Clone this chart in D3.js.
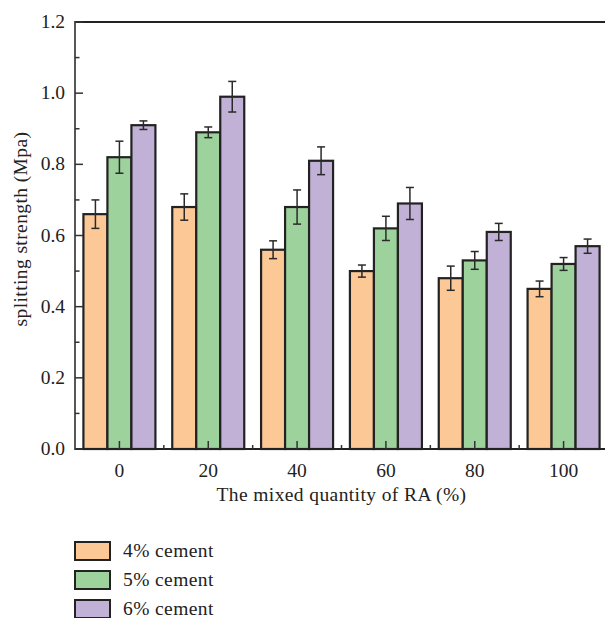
<!DOCTYPE html>
<html>
<head>
<meta charset="utf-8">
<script src="https://cdn.jsdelivr.net/npm/d3@7"></script>
<style>
    body { margin: 0; background: #fff; }
    text { font-family: 'Liberation Serif', 'DejaVu Serif', serif; fill: #222; }
</style>
</head>
<body>
<svg id="chart" width="605" height="618"></svg>
<script>
    // values
    const categories = ["0", "20", "40", "60", "80", "100"];
    const series = ["4% cement", "5% cement", "6% cement"];
    const cement4 = [0.66, 0.68, 0.56, 0.50, 0.48, 0.45];
    const cement5 = [0.82, 0.89, 0.68, 0.62, 0.53, 0.52];
    const cement6 = [0.91, 0.99, 0.81, 0.69, 0.61, 0.57];
    const err4 = [0.040, 0.037, 0.025, 0.017, 0.034, 0.022];
    const err5 = [0.045, 0.015, 0.048, 0.034, 0.025, 0.018];
    const err6 = [0.012, 0.043, 0.039, 0.045, 0.024, 0.020];
    const yTicks = [0, 0.2, 0.4, 0.6, 0.8, 1.0, 1.2];
    const yMinorTicks = [0.1, 0.3, 0.5, 0.7, 0.9, 1.1];
    const colors = ["#fcc896", "#9ed29c", "#c1b1d7"];

    const values = [cement4, cement5, cement6];
    const errors = [err4, err5, err6];

    const margin = { left: 75, right: 608, top: 22, bottom: 449 };
    const svg = d3.select("#chart");

    const x = d3.scaleBand().domain(categories).range([margin.left, margin.right]).padding(0);
    const xInner = d3.scaleBand().domain(series).range([-36, 36]).padding(0);
    const y = d3.scaleLinear().domain([0, 1.2]).range([margin.bottom, margin.top]);

    // bars
    const rows = [];
    series.forEach((s, si) => {
        categories.forEach((c, ci) => {
            rows.push({ cat: c, s: s, si: si, v: values[si][ci], e: errors[si][ci] });
        });
    });

    svg.append("g").selectAll("rect")
        .data(rows)
        .enter().append("rect")
        .attr("x", d => x(d.cat) + x.bandwidth() / 2 + xInner(d.s))
        .attr("y", d => y(d.v))
        .attr("width", xInner.bandwidth())
        .attr("height", d => y(0) - y(d.v))
        .style("fill", d => colors[d.si])
        .style("stroke", "#222")
        .style("stroke-width", "2.2px");

    // error bars
    const eg = svg.append("g").style("stroke", "#2a2a2a").style("stroke-width", "1.5px");
    rows.forEach(d => {
        const cx = x(d.cat) + x.bandwidth() / 2 + xInner(d.s) + xInner.bandwidth() / 2;
        eg.append("line").attr("x1", cx).attr("x2", cx).attr("y1", y(d.v + d.e)).attr("y2", y(d.v - d.e));
        eg.append("line").attr("x1", cx - 4).attr("x2", cx + 4).attr("y1", y(d.v + d.e)).attr("y2", y(d.v + d.e));
        eg.append("line").attr("x1", cx - 4).attr("x2", cx + 4).attr("y1", y(d.v - d.e)).attr("y2", y(d.v - d.e));
    });

    // frame
    svg.append("line").attr("x1", margin.left).attr("x2", margin.right)
        .attr("y1", margin.top).attr("y2", margin.top)
        .style("stroke", "#222").style("stroke-width", "2px");
    svg.append("line").attr("x1", margin.left).attr("x2", margin.right)
        .attr("y1", margin.bottom).attr("y2", margin.bottom)
        .style("stroke", "#222").style("stroke-width", "2px");
    svg.append("line").attr("x1", margin.left).attr("x2", margin.left)
        .attr("y1", margin.top - 1).attr("y2", margin.bottom + 1)
        .style("stroke", "#444").style("stroke-width", "1.8px");

    // y axis ticks and labels
    const yg = svg.append("g").style("stroke", "#333").style("stroke-width", "1.5px");
    yTicks.forEach(t => {
        yg.append("line").attr("x1", margin.left).attr("x2", margin.left + 8).attr("y1", y(t)).attr("y2", y(t));
    });
    yMinorTicks.forEach(t => {
        yg.append("line").attr("x1", margin.left).attr("x2", margin.left + 4.5).attr("y1", y(t)).attr("y2", y(t));
    });
    svg.append("g").selectAll("text")
        .data(yTicks)
        .enter().append("text")
        .attr("x", margin.left - 10)
        .attr("y", d => y(d) + 6)
        .attr("text-anchor", "end")
        .style("font-size", "19.5px")
        .text(d => d.toFixed(1));

    // x axis ticks and labels
    const xg = svg.append("g").style("stroke", "#333").style("stroke-width", "1.5px");
    categories.forEach((c, i) => {
        const cx = x(c) + x.bandwidth() / 2;
        xg.append("line").attr("x1", cx).attr("x2", cx).attr("y1", margin.bottom).attr("y2", margin.bottom - 8);
        if (i > 0) {
            xg.append("line").attr("x1", x(c)).attr("x2", x(c)).attr("y1", margin.bottom).attr("y2", margin.bottom - 4);
        }
    });
    svg.append("g").selectAll("text")
        .data(categories)
        .enter().append("text")
        .attr("x", d => x(d) + x.bandwidth() / 2)
        .attr("y", 477)
        .attr("text-anchor", "middle")
        .style("font-size", "19.5px")
        .text(d => d);

    // axis titles
    svg.append("text")
        .attr("x", (margin.left + margin.right) / 2)
        .attr("y", 501)
        .attr("text-anchor", "middle")
        .style("font-size", "19.5px")
        .style("letter-spacing", "0.4px")
        .text("The mixed quantity of RA (%)");
    svg.append("text")
        .attr("transform", "translate(27, 229) rotate(-90)")
        .attr("text-anchor", "middle")
        .style("font-size", "19.5px")
        .style("letter-spacing", "0.4px")
        .text("splitting strength (Mpa)");

    // legend
    const legend = svg.append("g").selectAll("g")
        .data(series)
        .enter().append("g")
        .attr("transform", (d, i) => `translate(75, ${542 + i * 29})`);
    legend.append("rect")
        .attr("width", 35).attr("height", 18)
        .style("fill", (d, i) => colors[i])
        .style("stroke", "#222").style("stroke-width", "2px");
    legend.append("text")
        .attr("x", 48).attr("y", 15)
        .style("font-size", "19.5px")
        .style("letter-spacing", "0.4px")
        .text(d => d);
</script>
</body>
</html>
